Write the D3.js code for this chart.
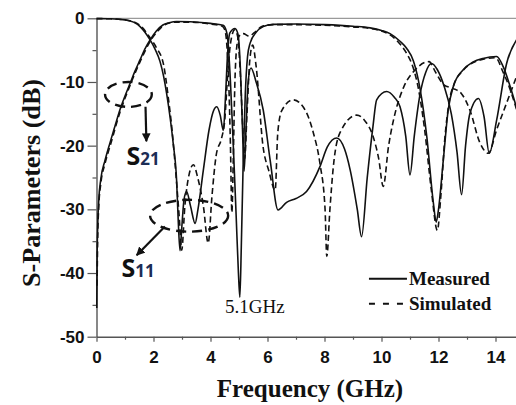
<!DOCTYPE html>
<html>
<head>
<meta charset="utf-8">
<script src="https://cdn.jsdelivr.net/npm/d3@7"></script>
<style>
  html, body { margin: 0; padding: 0; background: #fff; }
  svg { display: block; }
</style>
</head>
<body>
<div id="container"></div>
<script>
// S-parameter traces, [frequency GHz, dB]
const s21Measured = [
  [0.01,-45.5],[0.02,-38],[0.04,-33],[0.08,-28.5],[0.15,-25.3],[0.3,-22.3],[0.47,-19.6],[0.65,-16.9],
  [0.82,-14.4],[1.0,-12.2],[1.18,-10.2],[1.35,-8.3],[1.53,-6.5],[1.7,-4.8],[1.88,-3.4],[2.1,-2.0],
  [2.33,-1.05],[2.55,-0.7],[2.81,-0.5],[3.3,-0.55],[4.0,-0.8],[4.44,-1.1],[4.55,-1.9],[4.62,-4],
  [4.7,-10],[4.8,-20],[4.9,-31],[4.98,-40],[5.03,-43.8],[5.08,-36],[5.15,-22],[5.22,-12],[5.3,-6],
  [5.39,-3.9],[5.6,-2.2],[5.85,-1.3],[6.2,-0.95],[7,-0.9],[8,-1.0],[9,-1.25],[9.6,-1.5],[10.0,-1.9],
  [10.3,-2.4],[10.65,-3.6],[10.88,-4.7],[11.12,-6.7],[11.35,-11],[11.59,-18.6],[11.82,-29],[11.92,-32],
  [12.0,-30],[12.17,-22.2],[12.34,-14.4],[12.52,-10.7],[12.86,-8.1],[13.2,-6.9],[13.56,-6.3],[14.04,-6.0],
  [14.27,-7.6],[14.5,-10.5],[14.75,-14.2]
];

const s11Measured = [
  [0,-0.05],[0.5,-0.08],[1.0,-0.25],[1.3,-0.6],[1.53,-1.3],[1.7,-2.2],[1.88,-3.4],[2.05,-4.8],
  [2.23,-6.8],[2.35,-9],[2.46,-11.8],[2.58,-15.5],[2.69,-19.6],[2.81,-25.4],[2.87,-32],[2.93,-36.5],
  [2.99,-33],[3.07,-28.5],[3.16,-27.2],[3.3,-29.5],[3.46,-32.2],[3.56,-30],[3.75,-23.8],[3.95,-17.5],
  [4.1,-14.6],[4.22,-13.9],[4.34,-15.2],[4.45,-17.6],[4.53,-12],[4.6,-5.5],[4.68,-2.3],[4.86,-1.6],
  [4.97,-2.6],[5.05,-8],[5.12,-17],[5.18,-24],[5.24,-18],[5.32,-10],[5.42,-7.8],[5.6,-10],[5.85,-14.4],
  [6.1,-22.5],[6.37,-30.1],[6.67,-28.9],[7.0,-28.3],[7.37,-27.2],[7.84,-23.3],[8.1,-20.2],[8.43,-18.8],
  [8.7,-20.5],[8.9,-23.8],[9.15,-30],[9.3,-34.3],[9.5,-25],[9.7,-17],[9.83,-12.8],[10.18,-11.5],
  [10.45,-12.4],[10.65,-13.9],[10.85,-18.5],[11.0,-24.6],[11.15,-18.5],[11.35,-12],[11.55,-8.5],
  [11.76,-7.1],[11.95,-8],[12.2,-10.7],[12.45,-15],[12.65,-21],[12.81,-27.7],[12.95,-20],[13.1,-15],
  [13.4,-12.6],[13.6,-15.5],[13.78,-21.2],[14.04,-16],[14.39,-7.1],[14.75,-3.3]
];

const s21Simulated = [
  [0.02,-42],[0.04,-35],[0.08,-29.5],[0.15,-26],[0.3,-22.8],[0.5,-19.7],[0.82,-14.8],[1.18,-10.5],
  [1.53,-6.8],[1.9,-3.5],[2.15,-2.0],[2.4,-1.0],[2.8,-0.6],[3.3,-0.6],[4.0,-0.9],[4.4,-1.2],[4.5,-1.8],
  [4.57,-4],[4.64,-10],[4.7,-20],[4.75,-30.5],[4.8,-22],[4.85,-11],[4.92,-4.5],[5.0,-2.8],[5.15,-2.4],
  [5.35,-2.8],[5.55,-2.2],[5.8,-1.3],[6.2,-1.0],[7,-1.0],[8,-1.1],[9,-1.35],[9.6,-1.6],[10,-2.0],
  [10.3,-2.6],[10.6,-3.8],[10.88,-5.5],[11.1,-7.6],[11.28,-10.7],[11.5,-17],[11.75,-27],[11.96,-33.3],
  [12.08,-28],[12.22,-19],[12.38,-13],[12.55,-10.3],[12.86,-8.2],[13.5,-6.5],[14.0,-6.2],[14.27,-8.5],
  [14.5,-11],[14.75,-14.5]
];

const s11Simulated = [
  [0,-0.05],[0.5,-0.08],[1.0,-0.25],[1.3,-0.55],[1.55,-1.2],[1.9,-3.2],[2.1,-4.6],[2.35,-7.2],
  [2.52,-12.5],[2.65,-17.5],[2.75,-22.5],[2.9,-31],[2.99,-36.4],[3.1,-29.5],[3.25,-24.5],[3.4,-23],
  [3.55,-25],[3.75,-29.5],[3.92,-35.3],[4.05,-28],[4.2,-21.5],[4.39,-18.8],[4.5,-16],[4.6,-9],[4.7,-4],
  [4.85,-1.8],[4.95,-2.8],[5.05,-9],[5.14,-18],[5.2,-22],[5.28,-15],[5.38,-6.5],[5.48,-4.2],[5.6,-7.5],
  [5.84,-20],[6.05,-24],[6.27,-27],[6.36,-18],[6.5,-14.5],[6.9,-12.8],[7.32,-14.4],[7.61,-18],
  [7.84,-22.8],[8.02,-30],[8.08,-37.4],[8.19,-30],[8.31,-23.3],[8.54,-18],[9.13,-15.2],[9.4,-16],
  [9.7,-18.5],[9.9,-22],[10.06,-26.4],[10.25,-20],[10.5,-14.5],[10.76,-11],[11.2,-8],[11.67,-6.8],
  [11.9,-8.5],[12.2,-10.5],[12.5,-11],[12.8,-11.8],[13.1,-14.4],[13.45,-19.5],[13.75,-21.2],
  [14.04,-17.5],[14.39,-13.3],[14.75,-9]
];

const xTicks = [0, 2, 4, 6, 8, 10, 12, 14];
const xMinorTicks = [1, 3, 5, 7, 9, 11, 13];
const yTicks = [0, -10, -20, -30, -40, -50];
const yMinorTicks = [-5, -15, -25, -35, -45];
const legendLabels = ["Measured", "Simulated"];

const W = 516, H = 405;
const margin = {left: 96.5, top: 18.3, bottom: 68.3};

const svg = d3.select("#container").append("svg")
  .attr("width", W)
  .attr("height", H);

const x = d3.scaleLinear().domain([0, 15]).range([margin.left, margin.left + 28.5 * 15]);
const y = d3.scaleLinear().domain([-50, 0]).range([H - margin.bottom, margin.top]);

const sans = "'Liberation Sans', Arial, sans-serif";
const serif = "'Liberation Serif', 'Times New Roman', serif";

// top frame line
svg.append("line")
  .attr("x1", x(0)).attr("x2", W)
  .attr("y1", y(0)).attr("y2", y(0))
  .attr("stroke", "#9a9a9a")
  .attr("stroke-width", 1.3);

// axes
svg.append("g")
  .attr("transform", `translate(0,${y(-50)})`)
  .call(d3.axisBottom(x).tickValues(xTicks).tickSize(5).tickSizeOuter(0).tickPadding(9)
    .tickFormat(d => String(d)));
svg.append("g")
  .attr("transform", `translate(0,${y(-50)})`)
  .call(d3.axisBottom(x).tickValues(xMinorTicks).tickSize(3).tickFormat(""))
  .call(g => g.select(".domain").remove());

svg.append("g")
  .attr("transform", `translate(${x(0)},0)`)
  .call(d3.axisLeft(y).tickValues(yTicks).tickSize(9).tickSizeOuter(0).tickPadding(3)
    .tickFormat(d => String(d)));
svg.append("g")
  .attr("transform", `translate(${x(0)},0)`)
  .call(d3.axisLeft(y).tickValues(yMinorTicks).tickSize(4).tickFormat(""))
  .call(g => g.select(".domain").remove());

svg.selectAll(".domain").attr("stroke", "#555").attr("stroke-width", 1.4);
svg.selectAll(".tick line").attr("stroke", "#555").attr("stroke-width", 1.2);
svg.selectAll(".tick text")
  .attr("fill", "#111")
  .style("font-family", sans)
  .style("font-weight", "bold")
  .style("font-size", "17px");

// axis titles
svg.append("text")
  .attr("x", 310)
  .attr("y", 397)
  .attr("text-anchor", "middle")
  .style("font-family", serif)
  .style("font-weight", "bold")
  .style("font-size", "25px")
  .attr("fill", "#111")
  .text("Frequency (GHz)");

const yTitle = svg.append("text")
  .attr("transform", `translate(40,183) rotate(-90)`)
  .attr("text-anchor", "middle")
  .style("font-family", serif)
  .style("font-weight", "bold")
  .style("font-size", "24px")
  .attr("fill", "#111")
  .text("S-Parameters (dB)");
// fit title to the span it takes in the picture
const yTitleLen = yTitle.node().getComputedTextLength();
if (yTitleLen > 0) yTitle.style("font-size", (24 * 208 / yTitleLen).toFixed(2) + "px");

// traces
const line = d3.line()
  .x(d => x(d[0]))
  .y(d => y(d[1]))
  .curve(d3.curveMonotoneX);

const traces = [
  {data: s21Simulated, dash: "6,3.5"},
  {data: s11Simulated, dash: "6,3.5"},
  {data: s21Measured, dash: null},
  {data: s11Measured, dash: null}
];

traces.forEach(t => {
  svg.append("path")
    .datum(t.data)
    .attr("fill", "none")
    .attr("stroke", "#111")
    .attr("stroke-width", 1.6)
    .attr("stroke-dasharray", t.dash)
    .attr("d", line);
});

// annotations
svg.append("defs").append("marker")
  .attr("id", "arrow")
  .attr("viewBox", "0 0 10 10")
  .attr("refX", 9).attr("refY", 5)
  .attr("markerWidth", 4).attr("markerHeight", 4)
  .attr("orient", "auto")
  .append("path")
  .attr("d", "M0,0 L10,5 L0,10 Z")
  .attr("fill", "#111");

const ellipses = [
  {cx: 1.12, cy: -11.96, rx: 0.82, ry: 1.96},
  {cx: 3.25, cy: -31.0, rx: 1.37, ry: 2.5}
];
ellipses.forEach(e => {
  svg.append("ellipse")
    .attr("cx", x(e.cx)).attr("cy", y(e.cy))
    .attr("rx", x(e.cx + e.rx) - x(e.cx))
    .attr("ry", y(e.cy - e.ry) - y(e.cy))
    .attr("fill", "none")
    .attr("stroke", "#111")
    .attr("stroke-width", 2.4)
    .attr("stroke-dasharray", "10,6");
});

const arrows = [
  {from: [1.72, -13.9], to: [1.75, -19.3]},
  {from: [2.40, -32.7], to: [1.41, -37.2]}
];
arrows.forEach(a => {
  svg.append("line")
    .attr("x1", x(a.from[0])).attr("y1", y(a.from[1]))
    .attr("x2", x(a.to[0])).attr("y2", y(a.to[1]))
    .attr("stroke", "#111")
    .attr("stroke-width", 2.2)
    .attr("marker-end", "url(#arrow)");
});

const sLabels = [
  {f: 1.05, db: -23.0, sub: "21"},
  {f: 0.88, db: -40.6, sub: "11"}
];
sLabels.forEach(s => {
  const t = svg.append("text")
    .attr("x", x(s.f)).attr("y", y(s.db))
    .style("font-family", "'Open Sans', 'Noto Sans', sans-serif")
    .style("font-weight", "bold");
  t.append("tspan").attr("fill", "#111").style("font-size", "25px").text("S");
  t.append("tspan").attr("fill", "#1c2d55").style("font-size", "17px").text(s.sub);
});

svg.append("text")
  .attr("x", x(4.51)).attr("y", y(-46.3))
  .style("font-family", serif)
  .style("font-size", "19px")
  .attr("fill", "#111")
  .text("5.1GHz");

// legend
const legend = svg.append("g")
  .attr("transform", `translate(${x(9.56)},${y(-40.9)})`);
legendLabels.forEach((label, i) => {
  const row = legend.append("g").attr("transform", `translate(0,${i * 25})`);
  row.append("line")
    .attr("x1", 0).attr("x2", 38)
    .attr("stroke", "#111")
    .attr("stroke-width", 1.8)
    .attr("stroke-dasharray", i === 0 ? null : "6,8");
  row.append("text")
    .attr("x", 40).attr("y", 6)
    .style("font-family", serif)
    .style("font-weight", "bold")
    .style("font-size", "19px")
    .attr("fill", "#111")
    .text(label);
});
</script>
</body>
</html>
